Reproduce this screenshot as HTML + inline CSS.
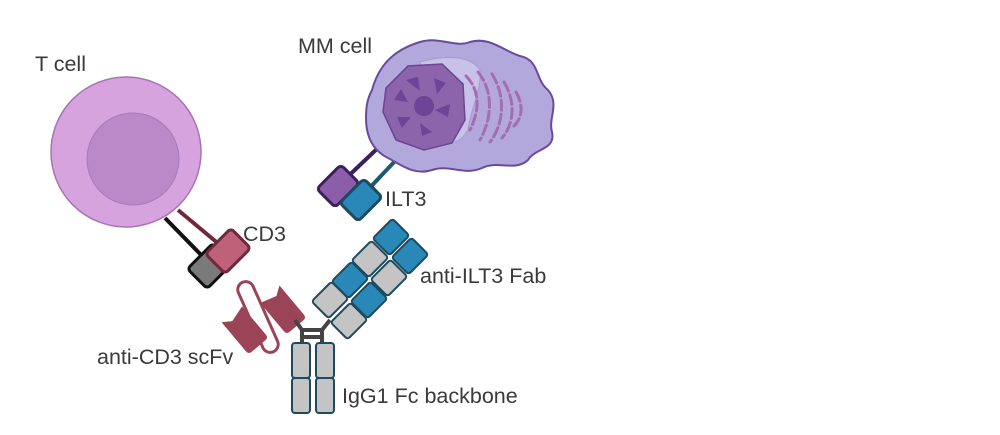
<!DOCTYPE html>
<html><head><meta charset="utf-8"><style>
html,body{margin:0;padding:0;background:#fff;width:1000px;height:435px;overflow:hidden}
svg{display:block}
text{font-family:"Liberation Sans",sans-serif;font-size:21.5px;fill:#3a3a3a}
</style></head><body>
<svg width="1000" height="435" viewBox="0 0 1000 435">
<!-- T cell -->
<line x1="165" y1="218" x2="208" y2="262" stroke="#111" stroke-width="4"/>
<line x1="178" y1="210" x2="226" y2="250" stroke="#6e2a3c" stroke-width="4"/>
<circle cx="126" cy="152" r="75" fill="#d7a3de" stroke="#a872b8" stroke-width="1.5"/>
<circle cx="133" cy="159" r="46" fill="#bb88c8" stroke="#a77bb8" stroke-width="1"/>
<g transform="translate(210,266) rotate(45)"><rect x="-14" y="-18" width="28" height="36" rx="4" fill="#7a7a7a" stroke="#111" stroke-width="3"/></g>
<g transform="translate(228,251) rotate(45)"><rect x="-14" y="-18" width="28" height="36" rx="4" fill="#c0617a" stroke="#6e2a3c" stroke-width="3"/></g>
<!-- MM cell -->
<line x1="380" y1="146" x2="340" y2="184" stroke="#3c1f5e" stroke-width="4"/>
<line x1="396" y1="160" x2="362" y2="196" stroke="#1d5a6e" stroke-width="4"/>
<path d="M372,90 C380,60 400,48 420,42 C440,36 455,48 470,42 C490,36 505,52 520,56 C540,60 535,80 548,90 C560,104 548,118 552,132 C556,150 535,148 528,160 C515,172 498,160 482,168 C464,176 450,164 432,170 C414,176 400,164 388,158 C372,150 366,135 366,118 C366,104 368,98 372,90 Z" fill="#b2a8dc" stroke="#6a4a9e" stroke-width="2"/>
<path d="M420,62 C445,55 470,55 480,70 C482,90 470,110 468,130 C462,140 455,145 445,140 Z" fill="#c9c2e8" stroke="#a89ad0" stroke-width="1"/>
<g fill="none" stroke="#a66cb0" stroke-width="3" stroke-linecap="round" stroke-dasharray="10 4">
<path d="M466,76 C480,90 480,110 470,130"/>
<path d="M478,72 C494,92 492,118 480,140"/>
<path d="M492,74 C506,96 504,124 490,142"/>
<path d="M504,82 C516,102 514,124 502,138"/>
<path d="M516,92 C524,106 522,118 514,126"/>
</g>
<path d="M386,88 L408,66 L442,64 L463,84 L465,120 L452,143 L424,150 L396,140 L383,112 Z" fill="#8c64ab" stroke="#6a4590" stroke-width="1.5"/>
<g fill="#6e4496">
<circle cx="424" cy="106" r="10"/>
<path d="M406,80 l12,-3 l2,14 z"/><path d="M434,78 l12,5 l-9,11 z"/>
<path d="M450,104 l-2,13 l-13,-7 z"/><path d="M432,132 l-10,4 l-2,-13 z"/>
<path d="M402,128 l-5,-11 l14,0 z"/><path d="M394,100 l7,-11 l7,13 z"/>
</g>
<g transform="translate(338,186) rotate(45)"><rect x="-13" y="-17" width="26" height="34" rx="4" fill="#8c5eaa" stroke="#3c1f5e" stroke-width="3"/></g>
<g transform="translate(361,200) rotate(45)"><rect x="-13" y="-17" width="26" height="34" rx="4" fill="#2a88b8" stroke="#1d4a5e" stroke-width="3"/></g>
<!-- scFv -->
<g transform="translate(258,317) rotate(-24)"><rect x="-8" y="-38" width="16" height="76" rx="8" fill="#fff" stroke="#9b4458" stroke-width="3"/></g>
<g transform="translate(283,310) rotate(-40)"><path d="M-13,-20 L4,-15 L13,-21 L13,17 Q13,21 9,21 L-9,21 Q-13,21 -13,17 Z" fill="#9b4458"/></g>
<g transform="translate(245,330) rotate(-40)"><path d="M-13,-21 L-4,-15 L13,-20 L13,17 Q13,21 9,21 L-9,21 Q-13,21 -13,17 Z" fill="#9b4458"/></g>
<!-- hinge -->
<g stroke="#444" stroke-width="4" fill="none">
<path d="M295,320 L302,330 L302,344"/><path d="M330,320 L322,330 L322,344"/>
<line x1="302" y1="330" x2="322" y2="330"/><line x1="302" y1="337" x2="322" y2="337"/>
</g>
<!-- Fc -->
<g fill="#c4c4c4" stroke="#1d4a5e" stroke-width="2">
<rect x="292" y="343" width="18" height="35" rx="3"/><rect x="292" y="378" width="18" height="35" rx="3"/>
<rect x="316" y="343" width="18" height="35" rx="3"/><rect x="316" y="378" width="18" height="35" rx="3"/>
</g>
<!-- Fab -->
<g stroke="#1d4a5e" stroke-width="2">
<g transform="translate(330,300) rotate(45)"><rect x="-12" y="-14" width="24" height="28" rx="3" fill="#c4c4c4"/></g>
<g transform="translate(350,280) rotate(45)"><rect x="-12" y="-14" width="24" height="28" rx="3" fill="#2a88b8"/></g>
<g transform="translate(370,259) rotate(45)"><rect x="-12" y="-14" width="24" height="28" rx="3" fill="#c4c4c4"/></g>
<g transform="translate(391,237) rotate(45)"><rect x="-12" y="-14" width="24" height="28" rx="3" fill="#2a88b8"/></g>
<g transform="translate(349,321) rotate(45)"><rect x="-12" y="-14" width="24" height="28" rx="3" fill="#c4c4c4"/></g>
<g transform="translate(369,300) rotate(45)"><rect x="-12" y="-14" width="24" height="28" rx="3" fill="#2a88b8"/></g>
<g transform="translate(389,278) rotate(45)"><rect x="-12" y="-14" width="24" height="28" rx="3" fill="#c4c4c4"/></g>
<g transform="translate(410,256) rotate(45)"><rect x="-12" y="-14" width="24" height="28" rx="3" fill="#2a88b8"/></g>
</g>
<!-- labels -->
<text x="35" y="71">T cell</text>
<text x="298" y="53">MM cell</text>
<text x="385" y="206">ILT3</text>
<text x="243" y="241">CD3</text>
<text x="420" y="283">anti-ILT3 Fab</text>
<text x="97" y="364">anti-CD3 scFv</text>
<text x="342" y="403">IgG1 Fc backbone</text>
</svg>
</body></html>
